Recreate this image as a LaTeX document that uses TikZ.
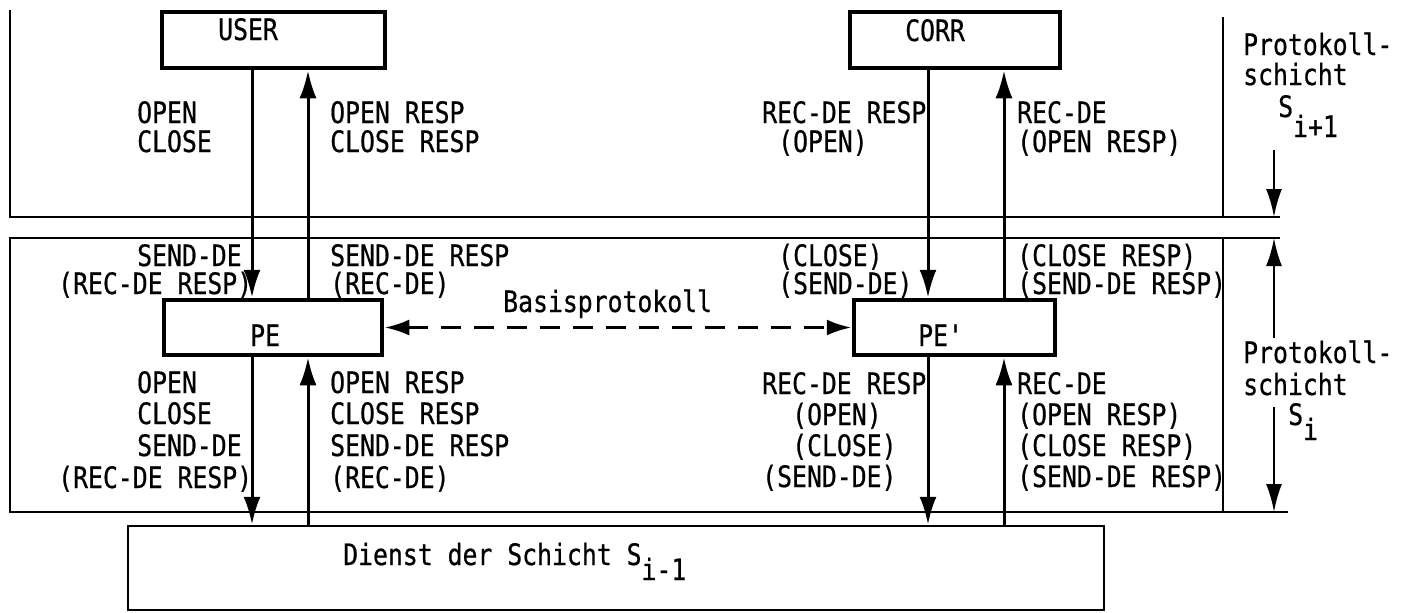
\documentclass[tikz,border=0pt]{standalone}
\usepackage{fontspec}
\newfontfamily\dfont{DejaVu Sans Mono}[FakeStretch=0.84,FakeBold=0.6]
\usetikzlibrary{arrows.meta}
\newcommand\sublow[2]{\raisebox{-#1pt}{#2}}
\begin{document}
\begin{tikzpicture}[x=1pt,y=-1pt,
  thickbox/.style={draw, line width=4.5pt, inner sep=0pt},
  thinbox/.style={draw, line width=2.5pt, inner sep=0pt},
  layer/.style={line width=2.5pt},
  arr/.style={line width=3pt, -{Latex[length=28pt,width=17pt]}},
  dimarr/.style={line width=2.5pt, -{Latex[length=28pt,width=16pt]}},
  dasharr/.style={line width=3.5pt, dash pattern=on 20pt off 13pt, {Latex[length=25pt,width=16pt]}-{Latex[length=25pt,width=16pt]}},
  lbl/.style={anchor=base west, inner sep=0pt, font=\dfont\fontsize{29.5}{30}\selectfont}]
\useasboundingbox (0,0) rectangle (1417,613);
\fill[white] (0,0) rectangle (1417,613);

% layer frames
\draw[layer] (10,10) -- (10,217) -- (1280,217);
\draw[layer] (1223,17) -- (1223,217);
\draw[layer] (1280,238) -- (10,238) -- (10,512) -- (1288,512);
\draw[layer] (1223,238) -- (1223,512);

% boxes
\node[thickbox, minimum width=223pt, minimum height=56pt] (USER) at (273.5,40) {};
\node[thickbox, minimum width=210pt, minimum height=56pt] (CORR) at (955,40) {};
\node[thickbox, minimum width=218pt, minimum height=55pt] (PE) at (273,327.5) {};
\node[thickbox, minimum width=201pt, minimum height=55pt] (PEp) at (954.5,327.5) {};
\node[thinbox, minimum width=976pt, minimum height=84pt] (D) at (616,568) {};

% lanes
\coordinate (l1) at (252,0);
\coordinate (l2) at (308,0);
\coordinate (r1) at (928,0);
\coordinate (r2) at (1004,0);

% connectors
\draw[arr] (USER.south -| l1) -- (PE.north -| l1);
\draw[arr] (PE.north -| l2) -- (USER.south -| l2);
\draw[arr] (PE.south -| l1) -- (D.north -| l1);
\draw[arr] (D.north -| l2) -- (PE.south -| l2);
\draw[arr] (CORR.south -| r1) -- (PEp.north -| r1);
\draw[arr] (PEp.north -| r2) -- (CORR.south -| r2);
\draw[arr] (PEp.south -| r1) -- (D.north -| r1);
\draw[arr] (D.north -| r2) -- (PEp.south -| r2);
\draw[dasharr] (PE.east) -- (PEp.west);

% dimension arrows
\coordinate (da) at (1274,150);
\coordinate (db) at (1274,217);
\coordinate (dc) at (1274,338);
\coordinate (dd) at (1274,238);
\coordinate (de) at (1274,407);
\coordinate (df) at (1274,512);
\draw[dimarr] (da) -- (db);
\draw[dimarr] (dc) -- (dd);
\draw[dimarr] (de) -- (df);

% box texts
\node[lbl] (tUSER) at (218,40) {USER};
\node[lbl] (tCORR) at (905,41) {CORR};
\node[lbl] (tPE) at (250,346) {PE};
\node[lbl] (tPEp) at (918,346) {PE'};
\node[lbl] (tD) at (343,565) {Dienst der Schicht S\sublow{15}{i-1}};
\node[lbl] (tB) at (503,312) {Basisprotokoll};

% upper labels
\node[lbl] (u1) at (137,123) {OPEN};
\node[lbl] (u2) at (137,152) {CLOSE};
\node[lbl] (u3) at (330,123) {OPEN RESP};
\node[lbl] (u4) at (330,152) {CLOSE RESP};
\node[lbl] (u5) at (762,123) {REC-DE RESP};
\node[lbl] (u6) at (778,152) {(OPEN)};
\node[lbl] (u7) at (1017,123) {REC-DE};
\node[lbl] (u8) at (1017,152) {(OPEN RESP)};
\node[lbl] (p1) at (1243,55) {Protokoll-};
\node[lbl] (p2) at (1243,85) {schicht};
\node[lbl] (p3) at (1278,117) {S\sublow{20}{i+1}};

% middle labels
\node[lbl] (m1) at (137,266) {SEND-DE};
\node[lbl] (m2) at (58,294) {(REC-DE RESP)};
\node[lbl] (m3) at (330,266) {SEND-DE RESP};
\node[lbl] (m4) at (330,294) {(REC-DE)};
\node[lbl] (m5) at (778,266) {(CLOSE)};
\node[lbl] (m6) at (778,294) {(SEND-DE)};
\node[lbl] (m7) at (1017,266) {(CLOSE RESP)};
\node[lbl] (m8) at (1017,294) {(SEND-DE RESP)};

% lower labels
\node[lbl] (b1) at (137,393) {OPEN};
\node[lbl] (b2) at (137,424) {CLOSE};
\node[lbl] (b3) at (137,456) {SEND-DE};
\node[lbl] (b4) at (58,488) {(REC-DE RESP)};
\node[lbl] (b5) at (330,393) {OPEN RESP};
\node[lbl] (b6) at (330,424) {CLOSE RESP};
\node[lbl] (b7) at (330,456) {SEND-DE RESP};
\node[lbl] (b8) at (330,488) {(REC-DE)};
\node[lbl] (b9) at (762,394) {REC-DE RESP};
\node[lbl] (b10) at (792,425) {(OPEN)};
\node[lbl] (b11) at (792,456) {(CLOSE)};
\node[lbl] (b12) at (762,487) {(SEND-DE)};
\node[lbl] (b13) at (1017,394) {REC-DE};
\node[lbl] (b14) at (1017,425) {(OPEN RESP)};
\node[lbl] (b15) at (1017,456) {(CLOSE RESP)};
\node[lbl] (b16) at (1017,487) {(SEND-DE RESP)};
\node[lbl] (q1) at (1243,363) {Protokoll-};
\node[lbl] (q2) at (1243,395) {schicht};
\node[lbl] (q3) at (1288,425) {S\sublow{15}{i}};
\end{tikzpicture}
\end{document}
